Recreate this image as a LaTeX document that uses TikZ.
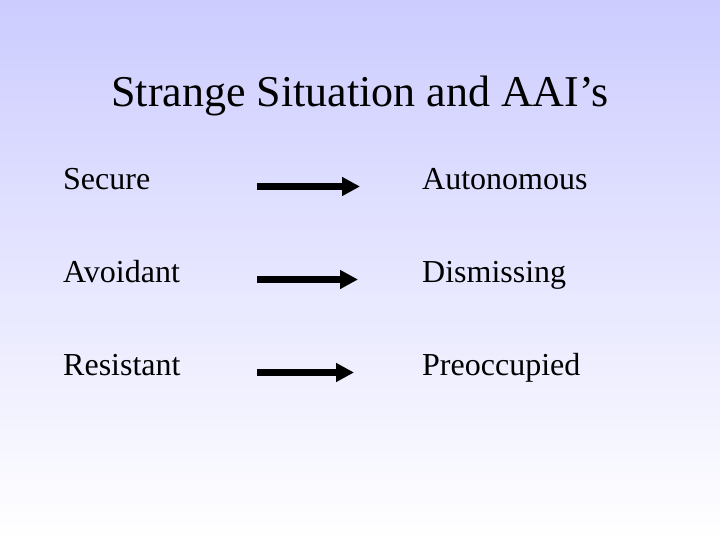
\documentclass[tikz,border=0pt]{standalone}
\usepackage{fontspec}
\setmainfont{Liberation Serif}
\usetikzlibrary{arrows.meta}
\definecolor{bgtop}{RGB}{204,204,255}
\begin{document}
\begin{tikzpicture}[x=1pt,y=-1pt,
  lbl/.style={anchor=base west,inner sep=0pt,font=\fontsize{32}{38}\selectfont},
  arr/.style={line width=7pt,-{Triangle[length=18pt,width=18pt]}}]
\shade[top color=bgtop,bottom color=white] (0,0) rectangle (720,540);
\useasboundingbox (0,0) rectangle (720,540);
\node[anchor=base,inner sep=0pt,font=\fontsize{44}{52}\selectfont] (title) at (360,107) {Strange Situation and AAI’s};
\node[lbl] (l1) at (63,190) {Secure};
\node[lbl] (l2) at (63,282.5) {Avoidant};
\node[lbl] (l3) at (63,375) {Resistant};
\node[lbl] (r1) at (422,190) {Autonomous};
\node[lbl] (r2) at (422,282.5) {Dismissing};
\node[lbl] (r3) at (422,375) {Preoccupied};
\coordinate (a1) at (257,186.5); \coordinate (b1) at (360,186.5);
\coordinate (a2) at (257,279.5); \coordinate (b2) at (358,279.5);
\coordinate (a3) at (257,372.5); \coordinate (b3) at (354,372.5);
\draw[arr] (a1) -- (b1);
\draw[arr] (a2) -- (b2);
\draw[arr] (a3) -- (b3);
\end{tikzpicture}
\end{document}
